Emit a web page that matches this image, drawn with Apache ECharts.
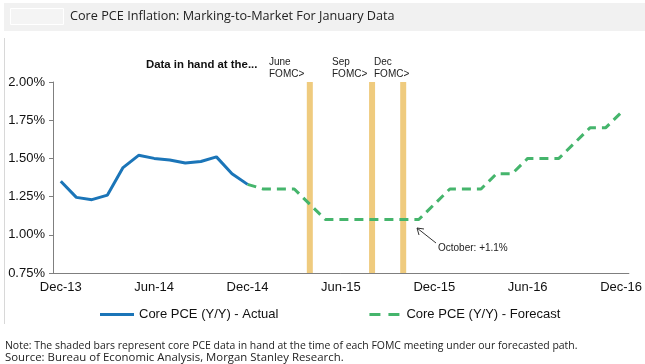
<!DOCTYPE html>
<html><head><meta charset="utf-8">
<script src="https://cdn.jsdelivr.net/npm/echarts@6/dist/echarts.min.js"></script>
<style>html,body{margin:0;padding:0;background:#fff}#c{width:645px;height:364px}</style>
</head><body><div id="c"></div>
<script>
const categories = ['Dec-13','Jan-14','Feb-14','Mar-14','Apr-14','May-14','Jun-14','Jul-14','Aug-14','Sep-14','Oct-14','Nov-14',
  'Dec-14','Jan-15','Feb-15','Mar-15','Apr-15','May-15','Jun-15','Jul-15','Aug-15','Sep-15','Oct-15','Nov-15',
  'Dec-15','Jan-16','Feb-16','Mar-16','Apr-16','May-16','Jun-16','Jul-16','Aug-16','Sep-16','Oct-16','Nov-16','Dec-16'];
const actual = [1.35,1.245,1.23,1.26,1.44,1.52,1.50,1.49,1.47,1.48,1.51,1.40,1.33,
  null,null,null,null,null,null,null,null,null,null,null,null,null,null,null,null,null,null,null,null,null,null,null,null];
const forecast = [null,null,null,null,null,null,null,null,null,null,null,null,
  1.33,1.30,1.30,1.30,1.20,1.10,1.10,1.10,1.10,1.10,1.10,1.10,
  1.20,1.30,1.30,1.30,1.40,1.40,1.50,1.50,1.50,1.60,1.70,1.70,1.80];
const fomcMonths = ['Apr-15','Aug-15','Oct-15'];
const fomcLabels = ['June\nFOMC>','Sep\nFOMC>','Dec\nFOMC>'];
const yTicks = [0.75,1.00,1.25,1.50,1.75,2.00];

const fomcBars = categories.map(c => fomcMonths.indexOf(c) >= 0 ? yTicks[yTicks.length-1] : null);

const chart = echarts.init(document.getElementById('c'), null, {renderer:'canvas'});
const F = '"Liberation Sans", Arial, sans-serif';
const FN = '"Open Sans", "Noto Sans", sans-serif';
chart.setOption({
  animation:false,
  textStyle:{fontFamily:F},
  grid:{left:53, right:12, top:82, bottom:91},
  legend:{
    left:95, top:303, itemWidth:34, itemHeight:3, itemGap:91,
    textStyle:{fontFamily:F, fontSize:13, color:'#111'},
    data:[
      {name:'Core PCE (Y/Y) - Actual', icon:'path://M0,0H34V3H0Z'},
      {name:'Core PCE (Y/Y) - Forecast', icon:'path://M0,0H11V3H0Z M19,0H30V3H19Z'}
    ]
  },
  xAxis:{
    type:'category', data:categories, boundaryGap:true,
    axisLine:{lineStyle:{color:'#7f7f7f', width:1}},
    axisTick:{interval:5, alignWithLabel:false, length:4, lineStyle:{color:'#7f7f7f'}},
    axisLabel:{interval:5, fontSize:13, color:'#111', margin:8, fontFamily:F}
  },
  yAxis:{
    type:'value', min:yTicks[0], max:yTicks[yTicks.length-1], interval:0.25,
    splitLine:{show:false},
    axisLine:{show:true, lineStyle:{color:'#7f7f7f'}},
    axisTick:{show:true, length:4, lineStyle:{color:'#7f7f7f'}},
    axisLabel:{fontSize:13, color:'#111', margin:8, fontFamily:F, formatter:v=>v.toFixed(2)+'%'}
  },
  series:[
    {name:'FOMC', type:'bar', data:fomcBars, barWidth:6, itemStyle:{color:'#EFCB7E'}, silent:true, z:1},
    {name:'Core PCE (Y/Y) - Actual', type:'line', data:actual, symbol:'none', showSymbol:false,
      lineStyle:{color:'#1B75B8', width:3}, itemStyle:{color:'#1B75B8'}, z:3},
    {name:'Core PCE (Y/Y) - Forecast', type:'line', data:forecast, symbol:'none', showSymbol:false,
      lineStyle:{color:'#45B56C', width:3, type:[9,6]}, itemStyle:{color:'#45B56C'}, z:2}
  ],
  graphic:[
    {type:'rect', shape:{x:4,y:3,width:641,height:28}, style:{fill:'#F1F1F1'}, silent:true},
    {type:'rect', shape:{x:10.5,y:8.5,width:53,height:16}, style:{fill:'#F4F4F4', stroke:'#FFFFFF', lineWidth:1}, silent:true},
    {type:'text', left:70, top:10, scaleX:0.975, style:{text:'Core PCE Inflation: Marking-to-Market For January Data', font:'13px '+FN, fill:'#222'}},
    {type:'line', shape:{x1:4.5,y1:38,x2:4.5,y2:324}, style:{stroke:'#D8D8D8', lineWidth:1}, silent:true},
    {type:'text', left:146, top:59, style:{text:'Data in hand at the...', font:'bold 11.4px '+F, fill:'#111'}},
    {type:'text', left:269, top:56, style:{text:fomcLabels[0], font:'10px '+F, fill:'#222', lineHeight:12}},
    {type:'text', left:332, top:56, style:{text:fomcLabels[1], font:'10px '+F, fill:'#222', lineHeight:12}},
    {type:'text', left:374, top:56, style:{text:fomcLabels[2], font:'10px '+F, fill:'#222', lineHeight:12}},
    {type:'line', shape:{x1:436,y1:243,x2:417,y2:228}, style:{stroke:'#333', lineWidth:1}, silent:true},
    {type:'polyline', shape:{points:[[424,229],[417,228],[419,235]]}, style:{stroke:'#333', lineWidth:1, fill:null}, silent:true},
    {type:'text', left:438, top:243, style:{text:'October: +1.1%', font:'10px '+F, fill:'#222'}},
    {type:'text', left:5, top:341, scaleX:1.045, style:{text:'Note: The shaded bars represent core PCE data in hand at the time of each FOMC meeting under our forecasted path.', font:'10px '+FN, fill:'#222'}},
    {type:'text', left:5, top:353, scaleX:1.14, style:{text:'Source: Bureau of Economic Analysis, Morgan Stanley Research.', font:'10px '+FN, fill:'#222'}}
  ]
});
</script></body></html>
